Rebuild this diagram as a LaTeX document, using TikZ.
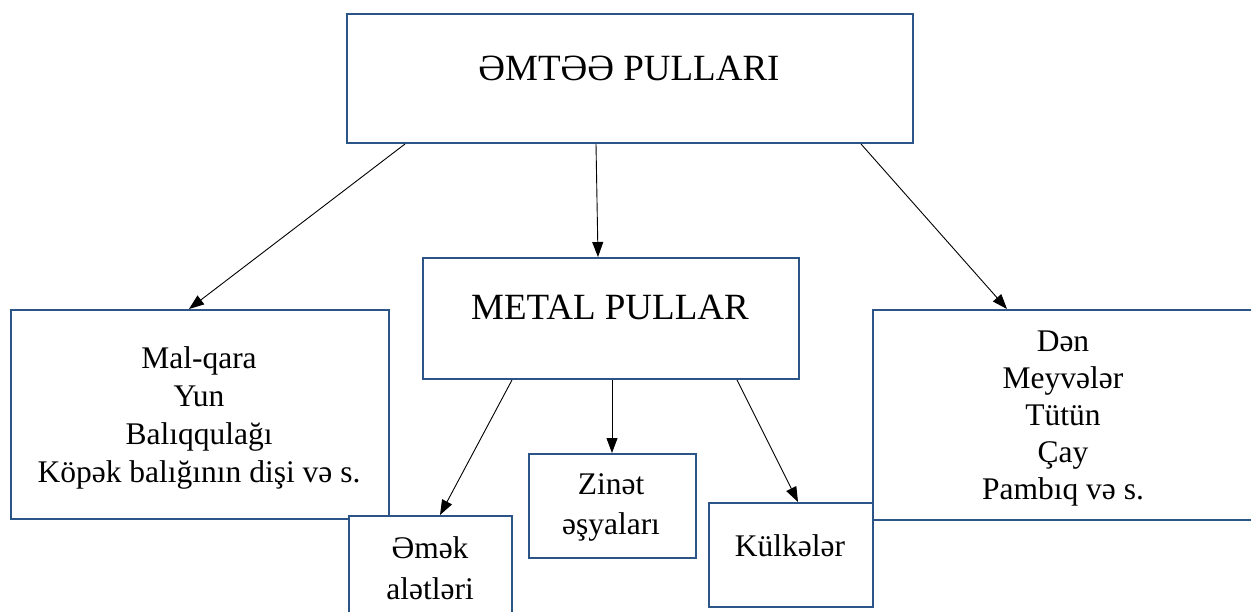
\documentclass[tikz,border=0pt]{standalone}
\usepackage{fontspec}
\setmainfont{Liberation Serif}
\usetikzlibrary{arrows.meta}
\definecolor{boxblue}{RGB}{44,85,135}
\tikzset{
  box/.style={draw=boxblue, line width=2pt, fill=white, rectangle, inner sep=0pt, anchor=north west},
  bigtxt/.style={font=\fontsize{37}{42}\selectfont, inner sep=0pt, anchor=base},
  listtxt/.style={font=\fontsize{31.5}{38}\selectfont, inner sep=0pt, align=center},
  arr/.style={draw=black, line width=0.9pt, -{Triangle[length=15pt,width=11pt]}}
}
\begin{document}
\begin{tikzpicture}[x=1pt,y=-1pt]
\useasboundingbox (0,0) rectangle (1251,612);
\fill[white] (0,0) rectangle (1251,612);
\begin{scope}
\clip (0,0) rectangle (1251,612);
% boxes
\node[box, minimum width=566pt, minimum height=129pt] (top) at (346,13) {};
\node[box, minimum width=378pt, minimum height=209pt] (left) at (10,309) {};
\node[box, minimum width=382pt, minimum height=210pt] (right) at (872,309) {};
\node[box, minimum width=376pt, minimum height=121pt] (metal) at (422,257) {};
\node[box, minimum width=163pt, minimum height=130pt] (emek) at (348,515) {};
\node[box, minimum width=164pt, minimum height=104pt] (kulk) at (708,502) {};
\node[box, minimum width=167pt, minimum height=104pt] (zinet) at (528,453) {};
% texts
\node[bigtxt] (toptxt) at (629,81) {ƏMTƏƏ PULLARI};
\node[bigtxt] (metaltxt) at (610,320) {METAL PULLAR};
\node[listtxt] (lefttxt) at (199,418) {Mal-qara\\Yun\\Balıqqulağı\\Köpək balığının dişi və s.};
\node[listtxt, font=\fontsize{31.5}{37}\selectfont] (righttxt) at (1063,419) {Dən\\Meyvələr\\Tütün\\Çay\\Pambıq və s.};
\node[listtxt, font=\fontsize{31.5}{41}\selectfont] (emektxt) at (430,568) {Əmək\\alətləri};
\node[listtxt, font=\fontsize{31.5}{40}\selectfont] (zinettxt) at (611,507) {Zinət\\əşyaları};
\node[listtxt, anchor=base] (kulktxt) at (790,556) {Külkələr};
% arrows
\draw[arr] ([xshift=59pt]top.south west) -- ([xshift=179pt]left.north west);
\draw[arr] ([xshift=250pt]top.south west) -- ([xshift=176pt]metal.north west);
\draw[arr] ([xshift=515pt]top.south west) -- ([xshift=135pt]right.north west);
\draw[arr] ([xshift=90pt]metal.south west) -- ([xshift=92pt]emek.north west);
\draw[arr] ([xshift=190pt]metal.south west) -- ([xshift=84pt]zinet.north west);
\draw[arr] ([xshift=315pt]metal.south west) -- ([xshift=90pt]kulk.north west);
\end{scope}
\end{tikzpicture}
\end{document}
